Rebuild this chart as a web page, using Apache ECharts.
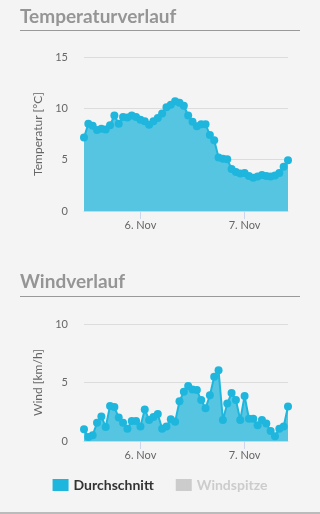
<!DOCTYPE html>
<html>
<head>
<meta charset="utf-8">
<script src="https://cdn.jsdelivr.net/npm/echarts@6/dist/echarts.min.js"></script>
<style>
html,body{margin:0;padding:0;background:#f4f4f4;}
#c{width:320px;height:514px;}
</style>
</head>
<body>
<div id="c"></div>
<script>
var categories = [
'5. Nov 11:00','5. Nov 12:00','5. Nov 13:00','5. Nov 14:00','5. Nov 15:00','5. Nov 16:00','5. Nov 17:00','5. Nov 18:00','5. Nov 19:00','5. Nov 20:00','5. Nov 21:00','5. Nov 22:00','5. Nov 23:00',
'6. Nov 00:00','6. Nov 01:00','6. Nov 02:00','6. Nov 03:00','6. Nov 04:00','6. Nov 05:00','6. Nov 06:00','6. Nov 07:00','6. Nov 08:00','6. Nov 09:00','6. Nov 10:00','6. Nov 11:00','6. Nov 12:00','6. Nov 13:00','6. Nov 14:00','6. Nov 15:00','6. Nov 16:00','6. Nov 17:00','6. Nov 18:00','6. Nov 19:00','6. Nov 20:00','6. Nov 21:00','6. Nov 22:00','6. Nov 23:00',
'7. Nov 00:00','7. Nov 01:00','7. Nov 02:00','7. Nov 03:00','7. Nov 04:00','7. Nov 05:00','7. Nov 06:00','7. Nov 07:00','7. Nov 08:00','7. Nov 09:00','7. Nov 10:00'
];
var temperature = [7.15,8.5,8.3,7.9,8.0,7.95,8.35,9.3,8.5,9.15,9.1,9.3,9.15,8.9,8.75,8.4,8.75,9.05,9.5,10.1,10.35,10.7,10.55,10.25,9.3,8.7,8.25,8.45,8.45,7.4,6.9,5.2,5.1,5.05,4.1,3.8,3.65,3.7,3.4,3.25,3.35,3.5,3.4,3.35,3.45,3.7,4.3,4.95];
var windAvg = [1.0,0.35,0.5,1.55,2.1,1.2,3.0,2.9,2.0,1.55,1.05,1.7,1.7,1.25,2.7,1.8,2.05,2.3,1.05,1.25,1.85,1.65,3.4,4.2,4.7,4.4,4.35,3.5,2.8,3.9,5.5,6.05,1.8,3.2,4.1,3.5,1.8,3.85,1.9,1.9,1.35,1.8,1.5,0.85,0.4,1.05,1.25,2.95];
var windPeak = [];
var tempTicks = {min:0, max:15, interval:5};
var windTicks = {min:0, max:10, interval:5};

var FONT = 'Lato, "Open Sans", sans-serif';
var LINE = '#1fb6de', AREA = '#56c5e1';
function isDay(idx){ return /00:00$/.test(categories[idx]); }
function xAxis(gi){
  return {
    type:'category', gridIndex:gi, data:categories, boundaryGap:false,
    axisLine:{lineStyle:{color:'#ccd6eb'}},
    axisTick:{show:true, length:8, lineStyle:{color:'#ccd6eb'}, interval:function(i){return isDay(i);}},
    axisLabel:{color:'#666', fontFamily:FONT, fontSize:11, margin:9,
      interval:function(i){return isDay(i);},
      formatter:function(v){return v.replace(/ \d\d:\d\d$/,'');}},
    splitLine:{show:false}
  };
}
function yAxis(gi, t, name){
  return {
    type:'value', gridIndex:gi, min:t.min, max:t.max, interval:t.interval,
    name:name, nameLocation:'middle', nameGap:40, nameRotate:90,
    nameTextStyle:{color:'#666', fontFamily:FONT, fontSize:12},
    axisLine:{show:false}, axisTick:{show:false},
    axisLabel:{color:'#666', fontFamily:FONT, fontSize:11, margin:16},
    splitLine:{lineStyle:{color:'#dcdcdc'}}
  };
}
function areaSeries(name, xi, yi, data){
  return {
    name:name, type:'line', xAxisIndex:xi, yAxisIndex:yi, data:data,
    symbol:'circle', symbolSize:8, showAllSymbol:true,
    lineStyle:{color:LINE, width:2}, itemStyle:{color:LINE},
    areaStyle:{color:AREA, opacity:1}, animation:false
  };
}
var chart = echarts.init(document.getElementById('c'), null, {renderer:'canvas'});
chart.setOption({
  backgroundColor:'#f4f4f4',
  animation:false,
  title:[
    {text:'Temperaturverlauf', left:20, top:7, padding:0, textStyle:{color:'#959595', fontFamily:FONT, fontWeight:'bold', fontSize:19}},
    {text:'Windverlauf', left:20, top:272, padding:0, textStyle:{color:'#959595', fontFamily:FONT, fontWeight:'bold', fontSize:19}}
  ],
  graphic:[
    {type:'line', shape:{x1:20,y1:30.5,x2:300,y2:30.5}, style:{stroke:'#999', lineWidth:1}},
    {type:'line', shape:{x1:20,y1:296.5,x2:300,y2:296.5}, style:{stroke:'#999', lineWidth:1}},
    {type:'line', shape:{x1:0,y1:513,x2:320,y2:513}, style:{stroke:'#bbb', lineWidth:2}}
  ],
  legend:{
    data:['Durchschnitt','Windspitze'], bottom:17, left:'center',
    itemWidth:16, itemHeight:12, itemGap:22, icon:'rect',
    selected:{'Windspitze':false},
    inactiveColor:'#cccccc',
    textStyle:{color:'#333', fontFamily:FONT, fontWeight:'bold', fontSize:14}
  },
  grid:[
    {left:84, right:32, top:57, height:154},
    {left:84, right:32, top:324, height:117}
  ],
  xAxis:[xAxis(0), xAxis(1)],
  yAxis:[yAxis(0, tempTicks, 'Temperatur [°C]'), yAxis(1, windTicks, 'Wind [km/h]')],
  series:[
    areaSeries('Durchschnitt', 0, 0, temperature),
    areaSeries('Durchschnitt', 1, 1, windAvg),
    {name:'Windspitze', type:'line', xAxisIndex:1, yAxisIndex:1, data:windPeak, itemStyle:{color:'#ccc'}, lineStyle:{color:'#ccc'}}
  ]
});
</script>
</body>
</html>
